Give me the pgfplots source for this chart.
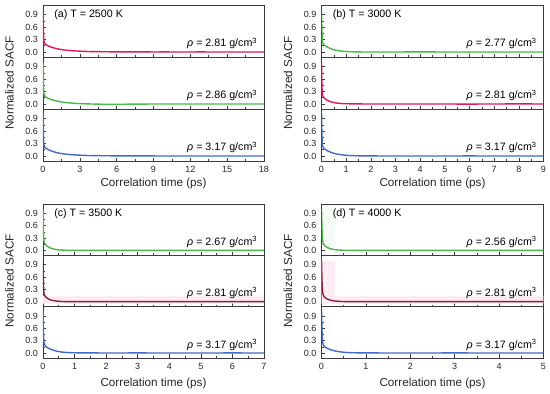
\documentclass[border=0pt]{standalone}
\usepackage{fontspec}
\setmainfont{Liberation Sans}
\usepackage{pgfplots}
\pgfplotsset{compat=1.18}
\definecolor{cred}{RGB}{228,22,92}
\definecolor{cdred}{RGB}{140,30,62}
\definecolor{cgreen}{RGB}{72,184,72}
\definecolor{cblue}{RGB}{66,106,200}
\definecolor{pinkband}{RGB}{253,236,243}
\definecolor{greenband}{RGB}{246,251,246}
\definecolor{axgray}{RGB}{60,60,60}
\pgfplotsset{
  sub/.style={
    scale only axis, anchor=north west,
    ymin=-0.12, ymax=1.13,
    ytick={0,0.3,0.6,0.9}, minor y tick num=1, minor x tick num=1,
    yticklabel style={/pgf/number format/fixed, /pgf/number format/fixed zerofill, /pgf/number format/precision=1, xshift=-1.5pt},
    /pgf/number format/assume math mode=true,
    tick align=inside, xtick pos=bottom, ytick pos=left,
    major tick length=3.5pt, minor tick length=2pt,
    axis line style={line width=0.6pt, axgray},
    tick style={line width=0.6pt, axgray},
    ticklabel style={font=\fontsize{9}{10}\selectfont, text=black!85},
    xticklabel style={yshift=-1.5pt},
  },
  curve/.style={line width=1.4pt},
}
\newcommand{\ann}[1]{\fontsize{10.7}{12}\selectfont #1}
\newcommand{\rhotxt}[1]{\fontsize{10.7}{12}\selectfont\textit{ρ} = #1 g/cm\textsuperscript{3}}
\begin{document}
\begin{tikzpicture}[x=1pt,y=1pt]
\useasboundingbox (0,0) rectangle (550,-394);
% ---------------- Panel (a) ----------------
\begin{axis}[sub, at={(43pt,-5pt)}, width=221pt, height=52pt, xmin=0, xmax=18, xtick={0,3,...,18}, xticklabels={}]
\addplot[curve, cred] coordinates {(0,1.00) (0.02,0.75) (0.04,0.45) (0.06,0.30) (0.1,0.23) (0.15,0.20) (0.25,0.175) (0.4,0.15) (0.6,0.125) (0.8,0.105) (1.0,0.09) (1.3,0.07) (1.6,0.055) (2.0,0.04) (2.5,0.028) (3.0,0.02) (3.5,0.014) (4,0.01) (5,0.006) (6,0.004) (7,0.002) (8,0.003) (9,0.001) (10,0.002) (11,0.0) (12,0.001) (13,0.002) (14,0.0) (15,0.001) (16,0.0) (17,0.001) (18,0.0)};
\node[anchor=west] at (rel axis cs:0.035,0.816) {\ann{(a) T = 2500 K}};
\node[anchor=east] at (rel axis cs:0.985,0.26) {\rhotxt{2.81}};
\end{axis}
\begin{axis}[sub, at={(43pt,-57pt)}, width=221pt, height=52pt, xmin=0, xmax=18, xtick={0,3,...,18}, xticklabels={}]
\addplot[curve, cgreen] coordinates {(0,1.00) (0.02,0.70) (0.04,0.42) (0.06,0.28) (0.1,0.22) (0.15,0.19) (0.25,0.165) (0.4,0.14) (0.6,0.115) (0.8,0.095) (1.0,0.08) (1.3,0.06) (1.6,0.045) (2.0,0.03) (2.5,0.018) (3,0.01) (3.5,0.005) (4,0.0) (5,-0.006) (6,-0.008) (7,-0.004) (8,-0.002) (9,0.0) (10,0.001) (12,-0.001) (14,0.001) (16,0.0) (18,0.0)};
\node[anchor=east] at (rel axis cs:0.985,0.26) {\rhotxt{2.86}};
\end{axis}
\begin{axis}[sub, at={(43pt,-109pt)}, width=221pt, height=52pt, xmin=0, xmax=18, xtick={0,3,...,18}]
\addplot[curve, cblue] coordinates {(0,1.05) (0.02,0.75) (0.04,0.45) (0.06,0.30) (0.1,0.24) (0.15,0.21) (0.25,0.185) (0.4,0.16) (0.6,0.13) (0.8,0.11) (1.0,0.09) (1.3,0.07) (1.6,0.055) (2,0.04) (2.5,0.028) (3,0.02) (3.5,0.014) (4,0.01) (5,0.006) (6,0.004) (8,0.002) (10,0.001) (12,0.001) (14,0.0) (16,0.001) (18,0.0)};
\node[anchor=east] at (rel axis cs:0.985,0.26) {\rhotxt{3.17}};
\end{axis}
% ---------------- Panel (b) ----------------
\begin{axis}[sub, at={(321.5pt,-5pt)}, width=222pt, height=52pt, xmin=0, xmax=9, xtick={0,1,...,9}, xticklabels={}]
\addplot[curve, cgreen] coordinates {(0,1.0) (0.01,0.7) (0.02,0.45) (0.03,0.3) (0.05,0.22) (0.08,0.19) (0.12,0.165) (0.2,0.13) (0.3,0.1) (0.4,0.075) (0.5,0.055) (0.6,0.04) (0.8,0.022) (1.0,0.012) (1.2,0.006) (1.5,0.002) (2,0.0) (2.5,0.001) (3,-0.001) (3.5,0.003) (4,0.005) (4.5,0.002) (5,0.0) (6,-0.001) (7,0.001) (8,0.0) (9,0.0)};
\node[anchor=west] at (rel axis cs:0.035,0.816) {\ann{(b) T = 3000 K}};
\node[anchor=east] at (rel axis cs:0.985,0.26) {\rhotxt{2.77}};
\end{axis}
\begin{axis}[sub, at={(321.5pt,-57pt)}, width=222pt, height=52pt, xmin=0, xmax=9, xtick={0,1,...,9}, xticklabels={}]
\addplot[curve, cred] coordinates {(0,1.0) (0.01,0.65) (0.02,0.4) (0.03,0.27) (0.05,0.2) (0.08,0.17) (0.12,0.14) (0.2,0.1) (0.3,0.07) (0.4,0.05) (0.5,0.035) (0.6,0.025) (0.8,0.012) (1.0,0.006) (1.5,0.002) (2,0.0) (3,0.001) (4,0.0) (5,0.0) (6,-0.002) (7,0.001) (8,0.002) (9,0.001)};
\node[anchor=east] at (rel axis cs:0.985,0.26) {\rhotxt{2.81}};
\end{axis}
\begin{axis}[sub, at={(321.5pt,-109pt)}, width=222pt, height=52pt, xmin=0, xmax=9, xtick={0,1,...,9}]
\addplot[curve, cblue] coordinates {(0,1.05) (0.01,0.7) (0.02,0.45) (0.03,0.3) (0.05,0.23) (0.08,0.2) (0.12,0.175) (0.2,0.14) (0.3,0.11) (0.4,0.085) (0.5,0.065) (0.6,0.05) (0.8,0.03) (1.0,0.018) (1.2,0.01) (1.5,0.005) (2,0.002) (3,0.0) (4,0.001) (5,0.0) (6,0.002) (7,0.0) (8,0.001) (9,0.0)};
\node[anchor=east] at (rel axis cs:0.985,0.26) {\rhotxt{3.17}};
\end{axis}
% ---------------- Panel (c) ----------------
\begin{axis}[sub, at={(43pt,-204pt)}, width=221pt, height=51.3pt, xmin=0, xmax=7, xtick={0,1,...,7}, xticklabels={}]
\addplot[curve, cgreen] coordinates {(0,1.0) (0.01,0.6) (0.02,0.35) (0.03,0.24) (0.05,0.18) (0.08,0.14) (0.12,0.11) (0.2,0.07) (0.3,0.04) (0.4,0.022) (0.5,0.012) (0.6,0.006) (0.8,0.002) (1,0.0) (2,0.001) (3,0.0) (4,-0.001) (5,0.0) (6,0.001) (7,0.0)};
\node[anchor=west] at (rel axis cs:0.035,0.816) {\ann{(c) T = 3500 K}};
\node[anchor=east] at (rel axis cs:0.985,0.26) {\rhotxt{2.67}};
\end{axis}
\begin{axis}[sub, at={(43pt,-255.3pt)}, width=221pt, height=51.3pt, xmin=0, xmax=7, xtick={0,1,...,7}, xticklabels={}]
\addplot[draw=none, fill=pinkband] coordinates {(0,-0.05) (7,-0.05) (7,0.15) (0,0.15) (0,-0.05)};
\addplot[curve, cdred] coordinates {(0,1.0) (0.01,0.55) (0.02,0.3) (0.03,0.2) (0.05,0.15) (0.08,0.12) (0.12,0.09) (0.2,0.055) (0.3,0.03) (0.4,0.017) (0.5,0.009) (0.6,0.004) (0.8,0.001) (1,0.0) (2,0.0) (3,0.001) (4,0.0) (5,0.0) (6,0.001) (7,0.0)};
\node[anchor=east] at (rel axis cs:0.985,0.26) {\rhotxt{2.81}};
\end{axis}
\begin{axis}[sub, at={(43pt,-306.6pt)}, width=221pt, height=51.3pt, xmin=0, xmax=7, xtick={0,1,...,7}]
\addplot[curve, cblue] coordinates {(0,1.05) (0.01,0.65) (0.02,0.4) (0.03,0.27) (0.05,0.2) (0.08,0.17) (0.12,0.14) (0.2,0.105) (0.3,0.075) (0.4,0.05) (0.5,0.034) (0.6,0.022) (0.8,0.01) (1,0.005) (1.3,0.002) (2,0.0) (3,0.001) (4,0.0) (5,0.0) (6,0.001) (7,0.0)};
\node[anchor=east] at (rel axis cs:0.985,0.26) {\rhotxt{3.17}};
\end{axis}
% ---------------- Panel (d) ----------------
\begin{axis}[sub, at={(321.5pt,-204pt)}, width=222pt, height=51.3pt, xmin=0, xmax=5, xtick={0,1,...,5}, xticklabels={}]
\addplot[draw=none, fill=greenband] coordinates {(0.02,0.1) (0.3,0.1) (0.3,1.1) (0.02,1.1) (0.02,0.1)};
\addplot[curve, cgreen] coordinates {(0,1.0) (0.01,0.55) (0.02,0.32) (0.03,0.22) (0.05,0.15) (0.08,0.11) (0.12,0.075) (0.2,0.04) (0.3,0.018) (0.4,0.008) (0.5,0.003) (0.7,0.0) (1,0.001) (2,0.0) (3,0.0) (4,0.001) (5,0.0)};
\node[anchor=west] at (rel axis cs:0.035,0.816) {\ann{(d) T = 4000 K}};
\node[anchor=east] at (rel axis cs:0.985,0.26) {\rhotxt{2.56}};
\end{axis}
\begin{axis}[sub, at={(321.5pt,-255.3pt)}, width=222pt, height=51.3pt, xmin=0, xmax=5, xtick={0,1,...,5}, xticklabels={}]
\addplot[draw=none, fill=pinkband] coordinates {(0,-0.05) (5,-0.05) (5,0.15) (0.3,0.15) (0.3,1.0) (0,1.0) (0,-0.05)};
\addplot[curve, cdred] coordinates {(0,1.0) (0.01,0.55) (0.02,0.3) (0.03,0.2) (0.05,0.14) (0.08,0.1) (0.12,0.07) (0.2,0.035) (0.3,0.016) (0.4,0.007) (0.5,0.003) (0.7,0.0) (1,0.0) (2,0.001) (3,0.0) (4,0.0) (5,0.001)};
\node[anchor=east] at (rel axis cs:0.985,0.26) {\rhotxt{2.81}};
\end{axis}
\begin{axis}[sub, at={(321.5pt,-306.6pt)}, width=222pt, height=51.3pt, xmin=0, xmax=5, xtick={0,1,...,5}]
\addplot[curve, cblue] coordinates {(0,1.05) (0.01,0.6) (0.02,0.35) (0.03,0.24) (0.05,0.18) (0.08,0.15) (0.12,0.12) (0.2,0.08) (0.3,0.05) (0.4,0.03) (0.5,0.018) (0.6,0.01) (0.8,0.004) (1,0.001) (2,0.0) (3,0.001) (4,0.0) (5,0.0)};
\node[anchor=east] at (rel axis cs:0.985,0.26) {\rhotxt{3.17}};
\end{axis}
% ---------------- Axis titles ----------------
\begin{scope}[every node/.style={font=\fontsize{11.7}{13}\selectfont, text=black!85}]
\node[rotate=90] at (9.5,-83) {Normalized SACF};
\node[rotate=90] at (288,-83) {Normalized SACF};
\node[rotate=90] at (9.5,-281) {Normalized SACF};
\node[rotate=90] at (288,-281) {Normalized SACF};
\node at (153.5,-183) {Correlation time (ps)};
\node at (432.5,-183) {Correlation time (ps)};
\node at (153.5,-383) {Correlation time (ps)};
\node at (432.5,-383) {Correlation time (ps)};
\end{scope}
\end{tikzpicture}
\end{document}
